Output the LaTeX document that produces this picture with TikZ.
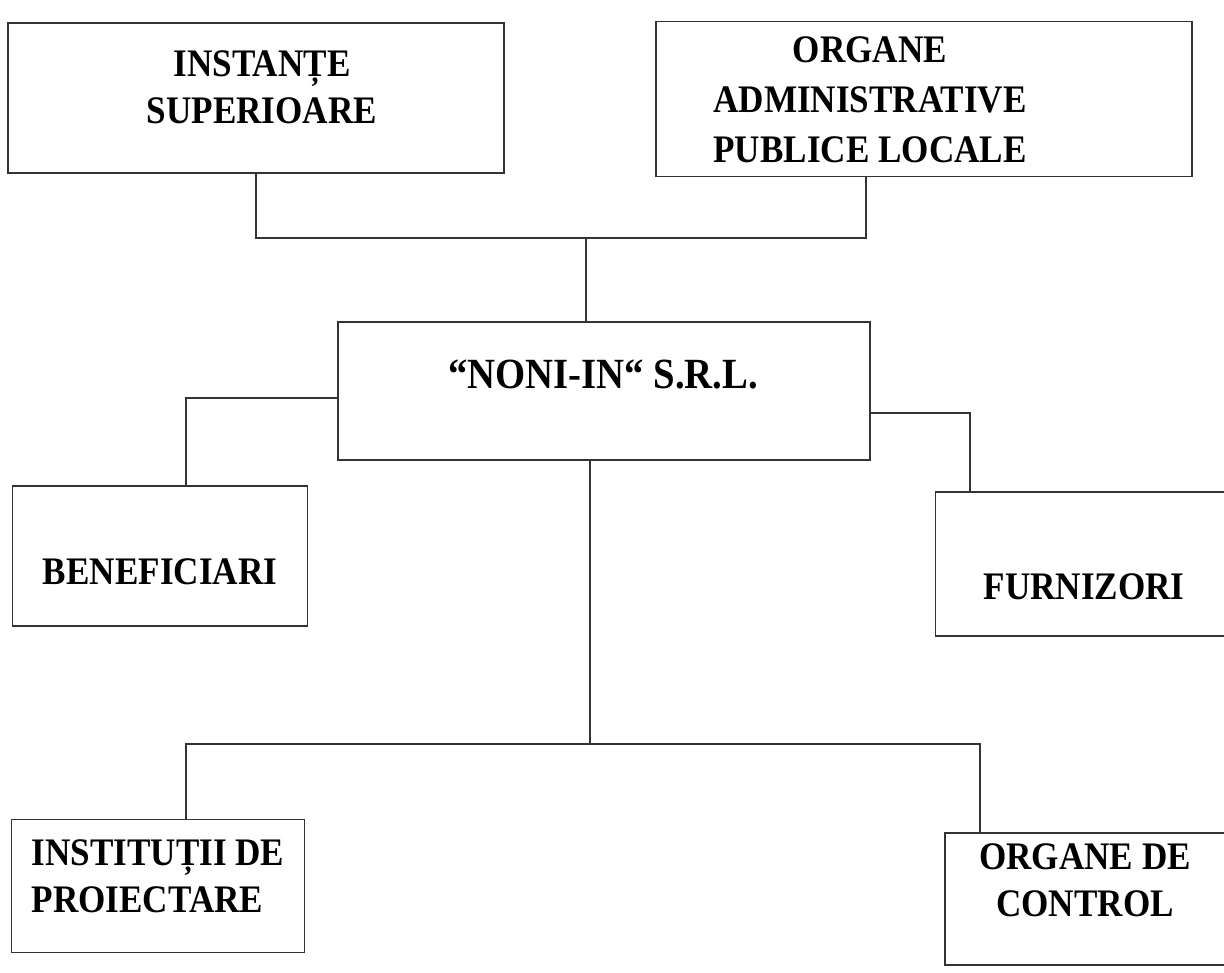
\documentclass[tikz,border=0pt]{standalone}
\usepackage{fontspec}
\setmainfont{Liberation Serif}[FakeStretch=0.9]
\begin{document}
\begin{tikzpicture}[x=0.02cm,y=-0.02cm,
  box/.style={draw=black!80, line width=0.8pt, rectangle, inner sep=0pt},
  txt/.style={font=\bfseries\fontsize{22.2}{27}\selectfont, align=center, inner sep=0pt},
  big/.style={font=\bfseries\fontsize{24.5}{28}\selectfont, inner sep=0pt},
  conn/.style={draw=black!80, line width=0.8pt}]
\useasboundingbox (0,0) rectangle (1224,973);
% boxes
\node[box, minimum width=9.92cm, minimum height=3.0cm] (inst) at (256,98) {};
\node[txt] (instT) at (262,87) {INSTANȚE\\SUPERIOARE};
\node[box, minimum width=10.72cm, minimum height=3.1cm] (org) at (924,99) {};
\node[txt, font=\bfseries\fontsize{22.2}{28.5}\selectfont] (orgT) at (870,100) {ORGANE\\ADMINISTRATIVE\\PUBLICE LOCALE};
\node[box, minimum width=10.64cm, minimum height=2.76cm] (noni) at (604,391) {};
\node[big] (noniT) at (603,374) {“NONI-IN“ S.R.L.};
\node[box, minimum width=5.9cm, minimum height=2.8cm] (ben) at (160,556) {};
\node[txt] (benT) at (160,572) {BENEFICIARI};
\node[box, minimum width=6.1cm, minimum height=2.88cm] (furn) at (1088,564) {};
\node[txt] (furnT) at (1084,587) {FURNIZORI};
\node[box, minimum width=5.86cm, minimum height=2.66cm] (proi) at (158,886) {};
\node[txt, align=left] (proiT) at (158,876) {INSTITUȚII DE\\PROIECTARE};
\node[box, minimum width=5.8cm, minimum height=2.64cm] (ctrl) at (1090,899) {};
\node[txt] (ctrlT) at (1085,880) {ORGANE DE\\CONTROL};
% helper coordinates
\coordinate (j1) at (586,238);
\coordinate (j2) at (590,744);
\coordinate (cx1) at (866,0);
\coordinate (cl) at (186,0);
\coordinate (cr) at (970,413);
\coordinate (cb) at (980,0);
\coordinate (nl) at (0,398);
% connectors
\draw[conn] (inst.south) |- (j1) -| (org.south -| cx1);
\draw[conn] (j1) -- (j1 |- noni.north);
\draw[conn] (noni.west |- nl) -| (ben.north -| cl);
\draw[conn] (noni.east |- cr) -| (furn.north -| cr);
\draw[conn] (noni.south -| j2) -- (j2);
\draw[conn] (proi.north -| cl) |- (j2) -| (ctrl.north -| cb);
\end{tikzpicture}
\end{document}
